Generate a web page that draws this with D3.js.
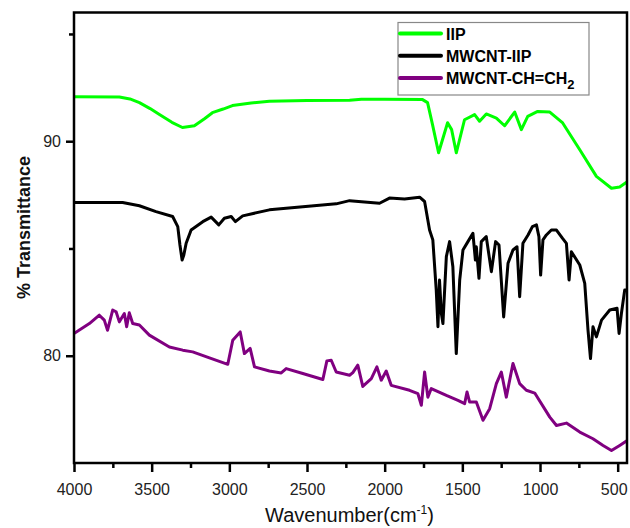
<!DOCTYPE html>
<html>
<head>
<meta charset="utf-8">
<script src="https://cdn.jsdelivr.net/npm/d3@7"></script>
<style>
  html, body { margin: 0; padding: 0; background: #fff; }
  svg { display: block; font-family: "Liberation Sans", Arial, sans-serif; }
</style>
</head>
<body>
<svg id="chart" width="630" height="528"></svg>
<script>
// FTIR spectra: [wavenumber (cm-1), % transmittance]
const iip = [
  [4000, 92.07], [3708, 92.06], [3640, 91.97], [3579, 91.8], [3510, 91.52], [3450, 91.24],
  [3370, 90.88], [3302, 90.64], [3225, 90.72], [3160, 91.05], [3109, 91.33], [3040, 91.5],
  [2980, 91.66], [2860, 91.78], [2742, 91.86], [2500, 91.9], [2226, 91.91], [2150, 91.96],
  [2000, 91.96], [1756, 91.94], [1724, 91.8], [1692, 90.77], [1653, 89.46], [1595, 90.86],
  [1569, 90.54], [1539, 89.46], [1486, 91.0], [1421, 91.24], [1389, 90.93], [1346, 91.27],
  [1281, 91.08], [1228, 90.72], [1163, 91.36], [1120, 90.54], [1079, 91.16], [1015, 91.39],
  [937, 91.36], [854, 90.85], [744, 89.6], [637, 88.36], [540, 87.81], [487, 87.87], [441, 88.1]
];

const mwcntIip = [
  [4000, 87.14], [3687, 87.14], [3579, 86.99], [3472, 86.72], [3365, 86.49], [3332, 86.02],
  [3318, 85.16], [3304, 84.46], [3293, 84.7], [3278, 85.24], [3246, 85.86], [3171, 86.25],
  [3117, 86.46], [3068, 86.1], [3032, 86.41], [2988, 86.49], [2961, 86.25], [2914, 86.52],
  [2742, 86.8], [2527, 86.95], [2312, 87.08], [2226, 87.23], [2130, 87.17], [2033, 87.11],
  [1969, 87.35], [1872, 87.31], [1775, 87.39], [1743, 87.19], [1711, 85.86], [1690, 85.4],
  [1668, 83.06], [1657, 81.35], [1647, 83.53], [1635, 81.97], [1625, 81.5], [1603, 84.62],
  [1582, 85.32], [1561, 84.15], [1539, 80.1], [1517, 83.53], [1496, 84.93], [1464, 85.32],
  [1432, 85.71], [1416, 84.46], [1410, 85.08], [1393, 83.61], [1378, 85.32], [1346, 85.55],
  [1313, 83.92], [1286, 85.32], [1264, 85.16], [1234, 81.81], [1206, 84.31], [1174, 84.93],
  [1148, 85.08], [1131, 82.75], [1110, 85.24], [1077, 85.63], [1049, 86.02], [1023, 86.1],
  [1007, 85.55], [996, 83.76], [981, 85.4], [959, 85.63], [927, 85.86], [894, 85.86],
  [856, 85.48], [830, 85.24], [813, 83.53], [798, 84.85], [744, 84.23], [712, 83.37],
  [691, 81.19], [675, 79.87], [659, 81.35], [637, 80.88], [604, 81.66], [551, 82.13],
  [504, 82.21], [491, 81.04], [476, 81.97], [455, 83.06], [441, 83.06]
];

const mwcntVinyl = [
  [4000, 81.04], [3901, 81.5], [3837, 81.89], [3805, 81.66], [3784, 81.19], [3751, 82.13],
  [3729, 82.05], [3708, 81.58], [3676, 81.97], [3661, 81.35], [3644, 82.0], [3622, 81.5],
  [3579, 81.43], [3515, 80.96], [3386, 80.41], [3300, 80.26], [3236, 80.18], [3128, 79.9],
  [3010, 79.6], [2978, 80.72], [2930, 81.11], [2903, 80.1], [2866, 80.34], [2838, 79.48],
  [2742, 79.29], [2666, 79.2], [2634, 79.4], [2527, 79.17], [2398, 78.89], [2372, 79.76],
  [2344, 79.79], [2312, 79.24], [2226, 79.09], [2205, 79.21], [2173, 79.56], [2141, 78.57],
  [2086, 78.93], [2050, 79.48], [2022, 78.86], [1990, 79.29], [1958, 78.62], [1840, 78.39],
  [1786, 78.23], [1764, 77.69], [1743, 79.24], [1722, 78.07], [1700, 78.47], [1603, 78.15],
  [1528, 77.92], [1485, 77.77], [1470, 78.31], [1453, 77.84], [1410, 77.84], [1367, 76.99],
  [1324, 77.53], [1281, 78.7], [1249, 79.24], [1217, 78.07], [1174, 79.64], [1131, 78.7],
  [1088, 78.39], [1034, 78.26], [937, 77.14], [894, 76.75], [830, 76.86], [744, 76.44],
  [659, 76.13], [594, 75.82], [540, 75.58], [487, 75.82], [444, 76.02]
];

const seriesNames = ["IIP", "MWCNT-IIP", "MWCNT-CH=CH2"];
const seriesColors = ["#00ff00", "#000000", "#800080"];
const xTicks = [4000, 3500, 3000, 2500, 2000, 1500, 1000, 500];
const xMinorTicks = [3750, 3250, 2750, 2250, 1750, 1250, 750];
const yTicks = [90, 80];
const yMinorTicks = [95, 85];

const svg = d3.select("#chart");
const margin = { top: 12.5, right: 3, bottom: 65, left: 74 };
const W = 630, H = 528;
const iw = W - margin.left - margin.right;
const ih = H - margin.top - margin.bottom;

const x = d3.scaleLinear().domain([4000, 440]).range([0, iw]);
const y = d3.scaleLinear().domain([75, 96]).range([ih, 0]);

const g = svg.append("g").attr("transform", `translate(${margin.left},${margin.top})`);

// clip curves to the plotting frame
svg.append("defs").append("clipPath").attr("id", "plotclip")
  .append("rect").attr("width", iw).attr("height", ih);

const line = d3.line().x(d => x(d[0])).y(d => y(d[1]));

const data = [iip, mwcntIip, mwcntVinyl];
const curves = g.append("g").attr("clip-path", "url(#plotclip)");
data.forEach((s, i) => {
  curves.append("path")
    .datum(s)
    .attr("fill", "none")
    .attr("stroke", seriesColors[i])
    .attr("stroke-width", 3)
    .attr("stroke-linejoin", "round")
    .attr("stroke-linecap", "round")
    .attr("d", line);
});

// axes
const xAxis = g.append("g").attr("transform", `translate(0,${ih})`)
  .call(d3.axisBottom(x).tickValues(xTicks).tickSize(9).tickPadding(12).tickFormat(d3.format("d")));
const xMinor = g.append("g").attr("transform", `translate(0,${ih})`)
  .call(d3.axisBottom(x).tickValues(xMinorTicks).tickSize(5).tickFormat(""));
const yAxis = g.append("g")
  .call(d3.axisLeft(y).tickValues(yTicks).tickSize(8).tickPadding(5).tickFormat(d3.format("d")));
const yMinor = g.append("g")
  .call(d3.axisLeft(y).tickValues(yMinorTicks).tickSize(5).tickFormat(""));

[xAxis, xMinor, yAxis, yMinor].forEach(a => {
  a.select(".domain").remove();
  a.selectAll(".tick line").attr("stroke", "#000").attr("stroke-width", 2.5);
  a.selectAll(".tick text").attr("fill", "#222").style("font-size", "16px")
    .style("font-family", "'Liberation Sans', Arial, sans-serif");
});

// the last x label sits at the right edge of the page; keep it inside
xAxis.selectAll(".tick text").filter(d => d === 500).attr("dx", -4);

// frame
g.append("rect")
  .attr("width", iw).attr("height", ih)
  .attr("fill", "none").attr("stroke", "#000").attr("stroke-width", 2.5);

// axis titles
const xt = svg.append("text")
  .attr("x", margin.left + iw / 2 - 1)
  .attr("y", 522)
  .attr("text-anchor", "middle")
  .style("font-size", "20px")
  .attr("fill", "#111");
xt.append("tspan").text("Wavenumber(cm");
xt.append("tspan").attr("dy", -8).style("font-size", "12px").text("-1");
xt.append("tspan").attr("dy", 8).text(")");

svg.append("text")
  .attr("transform", `translate(30,${margin.top + 215}) rotate(-90)`)
  .attr("text-anchor", "middle")
  .style("font-size", "18px")
  .style("font-weight", "bold")
  .attr("fill", "#111")
  .text("% Transmittance");

// legend
const lg = svg.append("g").attr("transform", "translate(398,22.5)");
lg.append("rect").attr("width", 191).attr("height", 72.5)
  .attr("fill", "#fff").attr("stroke", "#888").attr("stroke-width", 1.2);
seriesNames.forEach((name, i) => {
  const cy = 11 + i * 22.3;
  lg.append("line").attr("x1", 2).attr("x2", 43).attr("y1", cy).attr("y2", cy)
    .attr("stroke", seriesColors[i]).attr("stroke-width", 4).attr("stroke-linecap", "round");
  const t = lg.append("text").attr("x", 48).attr("y", cy + 6)
    .style("font-size", "16px").style("font-weight", "bold").attr("fill", "#000");
  if (name.endsWith("2")) {
    t.append("tspan").text(name.slice(0, -1));
    t.append("tspan").attr("dy", 5).style("font-size", "13px").text("2");
  } else {
    t.text(name);
  }
});
</script>
</body>
</html>
